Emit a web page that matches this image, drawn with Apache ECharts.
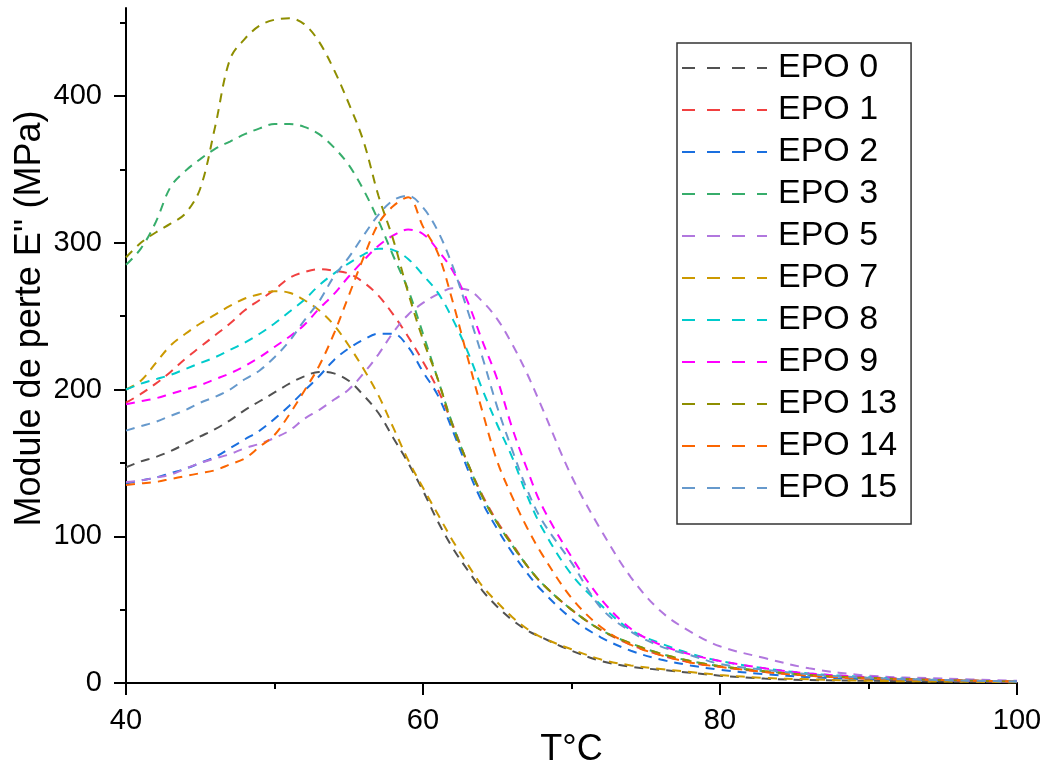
<!DOCTYPE html>
<html>
<head>
<meta charset="utf-8">
<title>Module de perte E''</title>
<script src="https://cdn.jsdelivr.net/npm/echarts@6.0.0/dist/echarts.min.js"></script>
<style>
  html, body { margin: 0; padding: 0; background: #fff; }
  #chart { width: 1049px; height: 766px; }
</style>
</head>
<body>
<div id="chart"></div>
<script>
// Temperatures (°C) at which the loss modulus is sampled
const temps = [40, 41, 42, 43, 44, 45, 46, 47, 48, 49, 50, 51, 52, 53, 54, 55, 56, 57, 58, 59,
               60, 61, 62, 63, 64, 65, 66, 67, 68, 70, 72, 74, 76, 78, 80, 83, 86, 90, 95, 100];

// Loss modulus E'' (MPa) for each formulation
const epo0  = [147, 151, 154, 158, 163, 168, 173, 179, 186, 192, 198, 204, 209, 212, 211, 206, 196, 184, 167, 150,
               131, 110, 92, 77, 63, 52, 43, 36, 31, 22, 15, 11, 9, 7, 5, 3, 2, 1.5, 1, 0.5];
const epo1  = [191, 197, 204, 212, 221, 229, 237, 245, 254, 261, 268, 276, 280, 282, 281, 279, 273, 264, 251, 236,
               219, 200, 176, 150, 128, 110, 95, 80, 68, 50, 36, 26, 19, 14, 11, 7.5, 5, 3, 2, 1];
const epo2  = [136, 138, 140, 143, 146, 150, 154, 160, 166, 172, 180, 189, 199, 209, 220, 228, 234, 238, 238, 229,
               212, 196, 172, 146, 123, 105, 89, 75, 63, 44, 31, 22, 16, 12, 9, 6, 4, 2.5, 1.5, 1];
const epo3  = [285, 296, 314, 338, 349, 357, 364, 369, 374, 378, 381, 381, 379, 374, 365, 353, 336, 315, 291, 268,
               238, 207, 176, 150, 127, 109, 94, 80, 68, 50, 36, 27, 20, 15, 11.5, 8, 5.5, 3.5, 2, 1];
const epo5  = [137, 138, 140, 142, 146, 150, 153, 156, 160, 163, 167, 172, 180, 186, 193, 200, 211, 224, 239, 251,
               259, 265, 269, 268, 260, 248, 231, 211, 188, 141, 104, 72, 49, 35, 25, 17, 10, 5, 3, 1.5];
const epo7  = [200, 206, 218, 230, 238, 245, 251, 257, 262, 265, 267, 266, 261, 254, 244, 230, 214, 196, 174, 152,
               133, 115, 97, 81, 66, 55, 45, 37, 31, 23, 16, 12, 9.5, 7.5, 5.5, 3.5, 2.5, 1.5, 1, 0.5];
const epo8  = [200, 204, 207, 210, 214, 218, 222, 227, 232, 238, 245, 253, 261, 271, 279, 286, 292, 296, 295, 289,
               278, 266, 248, 226, 200, 176, 154, 128, 106, 74, 53, 36, 27, 20, 15, 10, 6.5, 4, 2, 1];
const epo9  = [190, 192, 194, 197, 200, 203, 207, 211, 216, 222, 229, 236, 244, 255, 265, 277, 288, 298, 305, 309,
               306, 295, 281, 260, 233, 207, 174, 146, 121, 86, 57, 37, 26, 19.5, 15, 10, 6.5, 4, 2, 1];
const epo13 = [290, 300, 307, 313, 320, 337, 379, 425, 439, 448, 452, 453, 449, 437, 418, 395, 369, 332, 302, 266,
               234, 207, 175, 150, 127, 109, 94, 80, 68, 50, 36, 27, 20, 15, 11.5, 8, 5.5, 3.5, 2, 1];
const epo14 = [135, 136, 137, 139, 141, 143, 145, 149, 153, 161, 169, 183, 199, 216, 238, 264, 290, 313, 325, 331,
               311, 293, 260, 222, 185, 151, 127, 106, 88, 58, 38, 26, 19, 14, 11, 7.5, 5, 3, 2, 1];
const epo15 = [172, 175, 178, 182, 186, 191, 195, 200, 207, 213, 222, 233, 247, 260, 277, 290, 305, 319, 329, 332,
               324, 308, 284, 254, 222, 188, 159, 132, 111, 82, 51, 35, 25, 19, 13, 9, 6, 3.5, 2, 1];

const seriesNames  = ['EPO 0', 'EPO 1', 'EPO 2', 'EPO 3', 'EPO 5', 'EPO 7', 'EPO 8', 'EPO 9', 'EPO 13', 'EPO 14', 'EPO 15'];
const seriesValues = [epo0, epo1, epo2, epo3, epo5, epo7, epo8, epo9, epo13, epo14, epo15];
const seriesColors = ['#515151', '#F14040', '#1A6FDF', '#37AD6B', '#B177DE', '#CC9900',
                      '#00CBCC', '#FF00FF', '#8E8E00', '#FB6501', '#6699CC'];

// Axis ticks
const xMin = 40, xMax = 100, xStep = 20;
const yMin = 0, yMax = 460;
const yMajorTicks = [0, 100, 200, 300, 400];
const yMinorTicks = [50, 150, 250, 350, 450];

const FONT = 'Liberation Sans, Arial, sans-serif';

const chart = echarts.init(document.getElementById('chart'), null, { renderer: 'canvas' });

const series = seriesNames.map((name, i) => ({
  name: name,
  type: 'line',
  data: temps.map((t, k) => [t, seriesValues[i][k]]),
  showSymbol: false,
  symbol: 'none',
  smooth: 0.35,
  color: seriesColors[i],
  lineStyle: { color: seriesColors[i], width: 2, type: [9, 7] },
  emphasis: { disabled: true }
}));

chart.setOption({
  animation: false,
  backgroundColor: '#ffffff',
  grid: { left: 126, right: 32, top: 8, bottom: 83, containLabel: false, outerBoundsMode: 'none' },
  legend: {
    show: true,
    orient: 'vertical',
    left: 677,
    top: 43,
    data: seriesNames,
    itemWidth: 85,
    itemHeight: 14,
    itemGap: 8,
    padding: [8, 14, 19, 4],
    borderColor: '#333',
    borderWidth: 1.5,
    backgroundColor: '#fff',
    itemStyle: { opacity: 0 },
    lineStyle: { width: 2, type: [13, 12] },
    textStyle: { fontFamily: FONT, fontSize: 34, color: '#000', lineHeight: 32, padding: [0, 0, 0, 6] },
    selectedMode: false
  },
  xAxis: {
    type: 'value',
    min: xMin,
    max: xMax,
    interval: xStep,
    name: 'T°C',
    nameLocation: 'middle',
    nameGap: 49,
    nameMoveOverlap: false,
    nameTextStyle: { fontFamily: FONT, fontSize: 36, color: '#000' },
    axisLine: { show: true, onZero: false, lineStyle: { color: '#000', width: 2 } },
    axisTick: { show: true, length: 12, lineStyle: { color: '#000', width: 2 } },
    minorTick: { show: true, splitNumber: 2, length: 6, lineStyle: { color: '#000', width: 2 } },
    splitLine: { show: false },
    axisLabel: { fontFamily: FONT, fontSize: 29, color: '#000', margin: 23 }
  },
  yAxis: [
    {
      type: 'value',
      min: yMin,
      max: yMax,
      position: 'left',
      name: "Module de perte E'' (MPa)",
      nameLocation: 'middle',
      nameGap: 78,
      nameMoveOverlap: false,
      nameTextStyle: { fontFamily: FONT, fontSize: 36, color: '#000', padding: [0, 0, 0, 54] },
      axisLine: { show: true, onZero: false, lineStyle: { color: '#000', width: 2 } },
      axisTick: { show: true, length: 12, customValues: yMajorTicks, lineStyle: { color: '#000', width: 2 } },
      splitLine: { show: false },
      axisLabel: { fontFamily: FONT, fontSize: 29, color: '#000', margin: 24, customValues: yMajorTicks }
    },
    {
      type: 'value',
      min: yMin,
      max: yMax,
      position: 'left',
      offset: 0,
      axisLine: { show: false },
      axisTick: { show: true, length: 6, customValues: yMinorTicks, lineStyle: { color: '#000', width: 2 } },
      splitLine: { show: false },
      axisLabel: { show: false }
    }
  ],
  series: series
});
</script>
</body>
</html>
